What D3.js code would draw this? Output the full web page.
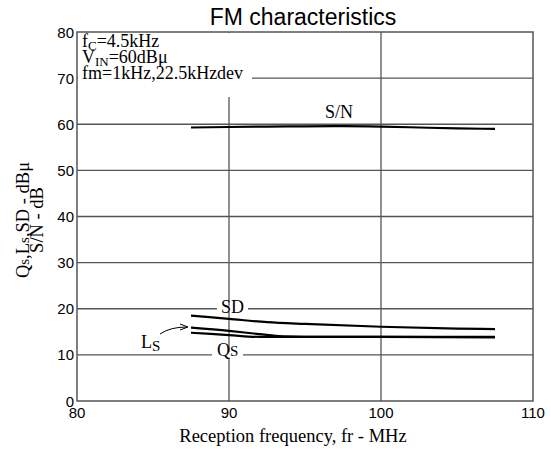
<!DOCTYPE html>
<html><head><meta charset="utf-8">
<script src="https://cdn.jsdelivr.net/npm/d3@7/dist/d3.min.js"></script>
<style>body{margin:0;background:#fff}svg{display:block}</style>
</head><body>
<svg id="c" width="551" height="451"></svg>
<script>
const xTicks = [80, 90, 100, 110];
const yTicks = [0, 10, 20, 30, 40, 50, 60, 70, 80];
const snFreq = [87.5, 90, 92.5, 95, 97.5, 100, 102.5, 105, 107.5];
const snVals = [59.3, 59.4, 59.5, 59.55, 59.6, 59.5, 59.3, 59.1, 59.0];
const sdFreq = [87.5, 90, 92.5, 95, 100, 105, 107.5];
const sdVals = [18.5, 17.8, 17.1, 16.7, 16.1, 15.7, 15.6];
const lsFreq = [87.5, 90, 92, 93.5, 95, 100, 107.5];
const lsVals = [15.9, 15.2, 14.5, 14.0, 13.9, 13.9, 13.9];
const qsFreq = [87.5, 90, 92, 95, 100, 107.5];
const qsVals = [14.8, 14.3, 13.9, 13.9, 13.9, 13.8];

const svg = d3.select("#c");
const L = 77, R = 533, T = 32, B = 401;
const x = d3.scaleLinear().domain([80, 110]).range([L, R]);
const y = d3.scaleLinear().domain([0, 80]).range([B, T]);
const grid = "#555";
const serif = "'Liberation Serif','Times New Roman',serif";
const sans = "'Liberation Sans',Arial,sans-serif";

// grid
const g = svg.append("g");
yTicks.filter(v => v > 0 && v < 80).forEach(v => {
  g.append("line").attr("x1", L).attr("x2", R).attr("y1", y(v)).attr("y2", y(v))
    .attr("stroke", grid).attr("stroke-width", 1.3);
});
[90, 100].forEach(v => {
  g.append("line").attr("x1", x(v)).attr("x2", x(v)).attr("y1", T).attr("y2", B)
    .attr("stroke", grid).attr("stroke-width", 1.3);
});
// masks behind labels
const mask = (x0, y0, w, h) => svg.append("rect").attr("x", x0).attr("y", y0).attr("width", w).attr("height", h).attr("fill", "#fff");
mask(L + 1, T + 1, 174, 64);
mask(217, y(20) - 3, 31, 6);
mask(212, y(10) - 3, 31, 6);

// frame
svg.append("rect").attr("x", L).attr("y", T).attr("width", R - L).attr("height", B - T)
  .attr("fill", "none").attr("stroke", grid).attr("stroke-width", 1.5);

// axes labels
svg.append("g").selectAll("text").data(yTicks).join("text")
  .attr("x", L - 3).attr("y", d => y(d) + 5.5).attr("text-anchor", "end")
  .attr("font-family", sans).attr("font-size", 15).text(d => d);
svg.append("g").selectAll("text").data(xTicks).join("text")
  .attr("x", d => x(d)).attr("y", 418).attr("text-anchor", "middle")
  .attr("font-family", sans).attr("font-size", 15).text(d => d);

// title
svg.append("text").attr("x", 303).attr("y", 25).attr("text-anchor", "middle")
  .attr("font-family", sans).attr("font-size", 23).text("FM characteristics");

// x title
svg.append("text").attr("x", 293).attr("y", 442).attr("text-anchor", "middle")
  .attr("font-family", serif).attr("font-size", 18.5).text("Reception frequency, fr - MHz");

// y title
const yt = svg.append("text").attr("transform", "translate(29,220) rotate(-90)")
  .attr("text-anchor", "middle").attr("font-family", serif).attr("font-size", 18.5);
const l1 = yt.append("tspan").attr("x", 0).attr("y", 0);
l1.append("tspan").text("Q");
l1.append("tspan").attr("font-size", 15).text("s");
l1.append("tspan").text(",L");
l1.append("tspan").attr("font-size", 15).text("s");
l1.append("tspan").text(",SD - dBμ");
yt.append("tspan").attr("x", 0).attr("y", 14).text("S/N - dB");

// info text
const info = svg.append("g").attr("font-family", serif).attr("font-size", 18);
const t1 = info.append("text").attr("x", 82).attr("y", 47);
t1.append("tspan").text("f");
t1.append("tspan").attr("dy", 3).attr("font-size", 13).text("C");
t1.append("tspan").attr("dy", -3).text("=4.5kHz");
const t2 = info.append("text").attr("x", 82).attr("y", 63);
t2.append("tspan").text("V");
t2.append("tspan").attr("dy", 3).attr("font-size", 13).text("IN");
t2.append("tspan").attr("dy", -3).text("=60dBμ");
info.append("text").attr("x", 82).attr("y", 79).text("fm=1kHz,22.5kHzdev");

// curves
const line = d3.line().x(d => x(d[0])).y(d => y(d[1])).curve(d3.curveMonotoneX);
const series = [[snFreq, snVals], [sdFreq, sdVals], [lsFreq, lsVals], [qsFreq, qsVals]];
series.forEach(([f, v]) => {
  svg.append("path").datum(d3.zip(f, v)).attr("d", line)
    .attr("fill", "none").attr("stroke", "#000").attr("stroke-width", 2.2);
});

// curve labels
const lab = svg.append("g").attr("font-family", serif).attr("font-size", 18);
lab.append("text").attr("x", 325).attr("y", 118).text("S/N");
lab.append("text").attr("x", 221).attr("y", 313).text("SD");
const q = lab.append("text").attr("x", 217).attr("y", 356);
q.append("tspan").text("Q");
q.append("tspan").attr("font-size", 15).text("S");
const ls = lab.append("text").attr("x", 141).attr("y", 348);
ls.append("tspan").text("L");
ls.append("tspan").attr("dy", 3).attr("font-size", 15).text("S");

// arrow for Ls
svg.append("path").attr("d", "M160,334 Q170,327 187,327")
  .attr("fill", "none").attr("stroke", "#000").attr("stroke-width", 1);
svg.append("path").attr("d", "M180,324 L188,327 L180,330")
  .attr("fill", "none").attr("stroke", "#000").attr("stroke-width", 1);
</script>
</body></html>
